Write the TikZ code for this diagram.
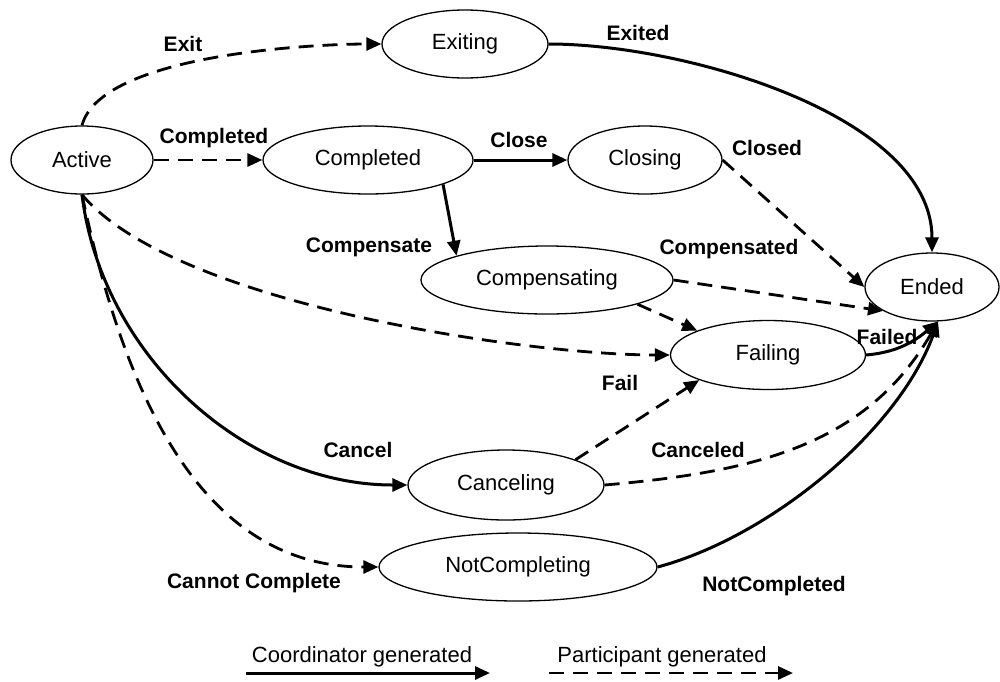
\documentclass[tikz,border=0pt]{standalone}
\usepackage{fontspec}
\setmainfont{Liberation Sans}
\usetikzlibrary{arrows.meta,shapes.geometric}

\begin{document}
\begin{tikzpicture}[
    x=0.5pt, y=0.5pt,
    state/.style={ellipse, draw, line width=0.65pt, inner sep=0pt,
                  minimum height=34pt, font=\fontsize{11}{13}\selectfont},
    coordarrow/.style={-{Triangle[length=7.5pt,width=6.5pt]}, line width=1.5pt},
    partarrow/.style={coordarrow, line width=1.4pt,
                      dash pattern=on 7.5pt off 4.5pt},
    lbl/.style={font=\bfseries\fontsize{10.5}{12}\selectfont, inner sep=0pt},
    legend/.style={font=\fontsize{11}{13}\selectfont, inner sep=0pt}
]
\useasboundingbox (0,0) rectangle (1000,-681);

% States
\node[state, minimum width=71pt] (active) at (82,-160) {Active};
\node[state, minimum width=83pt] (exiting) at (465,-44) {Exiting};
\node[state, minimum width=105pt] (completed) at (368,-160) {Completed};
\node[state, minimum width=77pt] (closing) at (645,-160) {Closing};
\node[state, minimum width=126pt] (compensating) at (547,-280) {Compensating};
\node[state, minimum width=67pt] (ended) at (932,-287) {Ended};
\node[state, minimum width=97.5pt, minimum height=34.5pt] (failing)
    at (768,-355) {Failing};
\node[state, minimum width=98pt, minimum height=35pt] (canceling)
    at (506,-485) {Canceling};
\node[state, minimum width=139pt] (notcompleting) at (518,-567) {NotCompleting};

% Coordinator generated
\draw[coordarrow] (completed.east) -- (closing.west);
\draw[coordarrow] (completed.342) -- (compensating.165);
\draw[coordarrow] (exiting.east) to[out=0, in=90, looseness=0.8] (ended.north);
\draw[coordarrow] (active.south) to[out=-83, in=180, looseness=0.95]
    (canceling.west);
\draw[coordarrow] (failing.east) to[out=5, in=220] (ended.280);
\draw[coordarrow] (notcompleting.east) to[out=15, in=250, looseness=0.8]
    (ended.280);

% Participant generated
\draw[partarrow] (active.north) to[out=75, in=180, looseness=0.6] (exiting.west);
\draw[partarrow] (active.east) -- (completed.west);
\draw[partarrow] (closing.east) -- (ended.west);
\draw[partarrow] (compensating.east) -- (ended.206);
\draw[partarrow] (compensating.345) -- (failing.161);
\draw[partarrow] (active.south) to[out=-50, in=180, looseness=0.6] (failing.west);
\draw[partarrow] (canceling.20) -- (failing.200);
\draw[partarrow] (canceling.east) to[out=5, in=240] (ended.280);
\draw[partarrow] (active.south) to[out=-78, in=180] (notcompleting.west);

% Labels
\node[lbl] (lblExit) at (183,-44) {Exit};
\node[lbl] (lblCompleted) at (214,-138) {Completed};
\node[lbl] (lblClose) at (519,-140) {Close};
\node[lbl] (lblExited) at (638,-33) {Exited};
\node[lbl] (lblClosed) at (767,-148) {Closed};
\node[lbl] (lblCompensate) at (369,-247) {Compensate};
\node[lbl] (lblCompensated) at (729,-249) {Compensated};
\node[lbl] (lblFailed) at (887,-337) {Failed};
\node[lbl] (lblFail) at (620,-383) {Fail};
\node[lbl] (lblCanceled) at (698,-450) {Canceled};
\node[lbl] (lblCancel) at (358,-450) {Cancel};
\node[lbl] (lblCannot) at (254,-583) {Cannot Complete};
\node[lbl] (lblNotCompleted) at (774,-586) {NotCompleted};

% Legend
\node[legend] (legCoord) at (362,-657) {Coordinator generated};
\node[legend] (legPart) at (662,-657) {Participant generated};
\coordinate (legCoordA) at (246,-673);
\coordinate (legCoordB) at (490,-673);
\coordinate (legPartA) at (549,-673);
\coordinate (legPartB) at (793,-673);
\draw[coordarrow] (legCoordA) -- (legCoordB);
\draw[partarrow] (legPartA) -- (legPartB);

\end{tikzpicture}
\end{document}
